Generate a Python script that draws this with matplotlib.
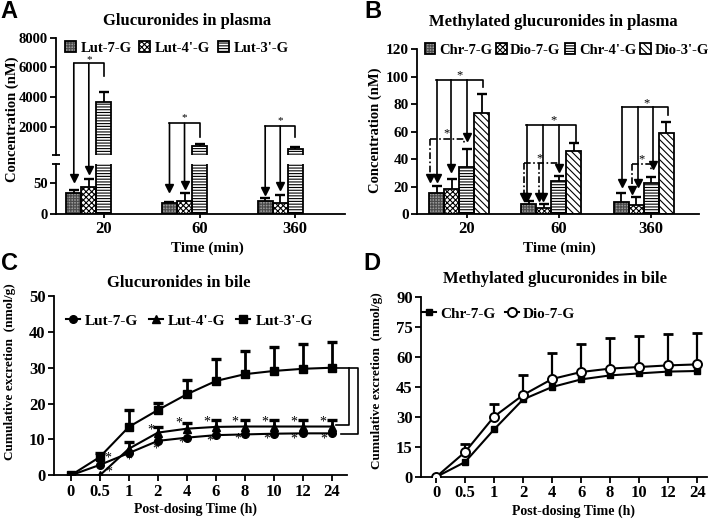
import numpy as np
import matplotlib
matplotlib.use('Agg')
import matplotlib.pyplot as plt
from matplotlib.patches import Patch, ConnectionPatch
from matplotlib.lines import Line2D

plt.rcParams['font.family'] = ['Liberation Serif', 'DejaVu Serif']
plt.rcParams['font.weight'] = 'bold'
plt.rcParams['axes.linewidth'] = 1.3
plt.rcParams['hatch.linewidth'] = 0.8

# ---------------- data ----------------
plasma_times = ['20', '60', '360']
lut_names = ["Lut-7-G", "Lut-4'-G", "Lut-3'-G"]
lut7_plasma = [34, 18.8, 21.5]
lut7_plasma_err = [4.6, 0.8, 4.1]
lut4_plasma = [43, 21.5, 17.6]
lut4_plasma_err = [13.8, 12.5, 13.6]
lut3_plasma = [3649, 706, 504]
lut3_plasma_err = [674, 135, 155]

met_names = ["Chr-7-G", "Dio-7-G", "Chr-4'-G", "Dio-3'-G"]
chr7_plasma = [15.8, 7.3, 9.0]
chr7_plasma_err = [4.8, 2.4, 6.3]
dio7_plasma = [18.7, 4.4, 6.8]
dio7_plasma_err = [6.8, 3.1, 5.6]
chr4_plasma = [34.2, 24.0, 23.0]
chr4_plasma_err = [13.3, 4.1, 3.9]
dio3_plasma = [73.5, 46.3, 59.4]
dio3_plasma_err = [13.8, 5.3, 7.8]

bile_times = ['0', '0.5', '1', '2', '4', '6', '8', '10', '12', '24']
lut7_bile = [0, 2.9, 6.2, 9.6, 10.5, 11.2, 11.4, 11.6, 11.7, 11.7]
lut4_bile = [0, 0, 7.4, 11.9, 13.0, 13.5, 13.6, 13.6, 13.6, 13.6]
lut4_bile_err = [0, 0, 1.9, 1.7, 1.5, 1.9, 1.8, 1.8, 1.8, 1.8]
lut3_bile = [0, 5.1, 13.5, 18.2, 22.6, 26.3, 28.2, 29.1, 29.7, 30.0]
lut3_bile_err = [0, 1.2, 4.7, 2.1, 4.0, 6.0, 6.5, 6.7, 7.0, 7.2]

chr7_bile = [0, 7.5, 23.8, 38.8, 45.0, 48.8, 50.8, 51.8, 52.7, 53.0]
dio7_bile = [0, 12.5, 30.2, 41.0, 49.0, 52.5, 54.2, 55.0, 55.8, 56.3]
dio7_bile_err = [0, 4.2, 6.5, 10.0, 13.2, 13.8, 15.1, 15.3, 15.5, 15.9]

# ---------------- helpers ----------------
W, H = 724, 522
fig = plt.figure(figsize=(W / 100, H / 100), dpi=100)


def box(l, t, r, b):
    return [l / W, 1 - b / H, (r - l) / W, (b - t) / H]


def fxy(px, py):
    return px / W, 1 - py / H


bar_styles = {
    'gray': dict(face='#9a9a9a', hatch='++++++', hc='#4a4a4a'),
    'check': dict(face='white', hatch='xxxxxx', hc='black'),
    'hline': dict(face='white', hatch='------', hc='black'),
    'diag': dict(face='white', hatch='\\\\\\\\\\', hc='black'),
}


def draw_bars(ax, xs, hs, w, st, base=0):
    s = bar_styles[st]
    hs = np.asarray(hs, float) - base
    ax.bar(xs, hs, w, bottom=base, color=s['face'], edgecolor=s['hc'], hatch=s['hatch'],
           linewidth=0, zorder=2)
    ax.bar(xs, hs, w, bottom=base, fill=False, edgecolor='black', linewidth=1.3, zorder=3)


def bar_handle(st):
    s = bar_styles[st]
    return (Patch(facecolor=s['face'], edgecolor=s['hc'], hatch=s['hatch'], linewidth=0),
            Patch(fill=False, edgecolor='black', linewidth=1.3))


def up_err(ax, x, y, e, cap=7, lw=1.3, z=4):
    x = np.asarray(x, float)
    y = np.asarray(y, float)
    e = np.asarray(e, float)
    m = e > 0
    ax.vlines(x[m], y[m], y[m] + e[m], color='k', lw=lw, zorder=z)
    ax.plot(x[m], y[m] + e[m], ls='none', marker='_', ms=cap, mew=lw + 0.4, color='k', zorder=z)


def prism(ax, ysize=11, xsize=12):
    for s in ['top', 'right']:
        ax.spines[s].set_visible(False)
    ax.tick_params(direction='out', length=4, width=1.3, pad=2)
    ax.tick_params(axis='y', labelsize=ysize)
    ax.tick_params(axis='x', labelsize=xsize)


def star(ax, x, y, size=9):
    ax.text(x, y, '*', ha='center', va='center', fontsize=size, fontweight='normal', clip_on=False)


def vline_arrow(ax, x, y0, tip, ls='-'):
    ax.plot([x, x], [y0, tip], color='k', lw=1.2, ls=ls, clip_on=False, zorder=5)
    ax.plot(x, tip, marker='v', ms=6, color='k', clip_on=False, zorder=5)


DASHDOT = (0, (4, 1.5, 1, 1.5))

# ---------------- panel A (broken axis) ----------------
axA_lo = fig.add_axes(box(56, 164.3, 345, 214.3))
axA_up = fig.add_axes(box(56, 37.7, 345, 155))
xA = np.arange(len(plasma_times))
wA = 0.157
lutA = [(lut7_plasma, lut7_plasma_err, 'gray'),
        (lut4_plasma, lut4_plasma_err, 'check'),
        (lut3_plasma, lut3_plasma_err, 'hline')]
for i, (vals, errs, st) in enumerate(lutA):
    draw_bars(axA_lo, xA + (i - 2) * wA, vals, wA, st)
    up_err(axA_lo, xA + (i - 2) * wA, vals, errs)
# only Lut-3'-G reaches the upper segment; its base sits well below the break
draw_bars(axA_up, xA, lut3_plasma, wA, 'hline', base=-3000)
up_err(axA_up, xA, lut3_plasma, lut3_plasma_err)
for ax in (axA_lo, axA_up):
    ax.set_xlim(-0.50, 2.52)
    prism(ax, ysize=10.5)

axA_lo.set_ylim(0, 80)
axA_lo.set_yticks([0, 50])
axA_lo.set_xticks(xA)
axA_lo.set_xticklabels(plasma_times)
axA_lo.tick_params(axis='x', length=3)
axA_up.set_ylim(100, 8000)
axA_up.set_yticks([2000, 4000, 6000, 8000])
axA_up.spines['bottom'].set_visible(False)
axA_up.tick_params(axis='x', bottom=False, labelbottom=False)
# break caps
axA_up.plot(0, 0, marker='_', ms=6, mew=1.3, color='k', transform=axA_up.transAxes, clip_on=False)
axA_lo.plot(0, 1, marker='_', ms=6, mew=1.3, color='k', transform=axA_lo.transAxes, clip_on=False)

axA_up.legend([bar_handle(s) for _, _, s in lutA], lut_names, ncol=3, frameon=False,
              loc='center left', bbox_to_anchor=fxy(65, 48), bbox_transform=fig.transFigure,
              borderpad=0, borderaxespad=0, handlelength=0.75, handleheight=0.75,
              handletextpad=0.3, columnspacing=0.55, fontsize=10.5)

# brackets spanning the break: (bracket y, drop y, tip Lut-7, tip Lut-4, star y)
a_brackets = [(6276, 5420, 58.5, 70.5, 6550),
              (2235, 1312, 41.5, 46.6, 2592),
              (2053, 1312, 38.0, 45.0, 2390)]
for g, (yb, yd, t0, t1, ys) in enumerate(a_brackets):
    x0, x1, x2 = g - 2 * wA, g - wA, g
    axA_up.plot([x0, x2, x2], [yb, yb, yd], color='k', lw=1.2, clip_on=False)
    for xx, tip in ((x0, t0), (x1, t1)):
        cp = ConnectionPatch((xx, yb), (xx, tip), 'data', 'data', axesA=axA_up, axesB=axA_lo,
                             color='k', lw=1.2, shrinkA=0, shrinkB=0)
        fig.add_artist(cp)
        axA_lo.plot(xx, tip, marker='v', ms=6, color='k', clip_on=False, zorder=5)
    star(axA_up, x1, ys, size=8)

# ---------------- panel B ----------------
axB = fig.add_axes(box(417, 49.3, 699, 214.3))
xB = np.arange(len(plasma_times))
wB = 0.163
metB = [(chr7_plasma, chr7_plasma_err, 'gray'),
        (dio7_plasma, dio7_plasma_err, 'check'),
        (chr4_plasma, chr4_plasma_err, 'hline'),
        (dio3_plasma, dio3_plasma_err, 'diag')]
for i, (vals, errs, st) in enumerate(metB):
    draw_bars(axB, xB + (i - 2) * wB, vals, wB, st)
    up_err(axB, xB + (i - 2) * wB, vals, errs)
axB.set_xlim(-0.54, 2.52)
axB.set_ylim(0, 120)
axB.set_yticks(np.arange(0, 121, 20))
axB.set_xticks(xB)
axB.set_xticklabels(plasma_times)
prism(axB)
axB.tick_params(axis='x', length=3)
axB.legend([bar_handle(s) for _, _, s in metB], met_names, ncol=4, frameon=False,
           loc='center left', bbox_to_anchor=fxy(425, 50), bbox_transform=fig.transFigure,
           borderpad=0, borderaxespad=0, handlelength=0.7, handleheight=0.7,
           handletextpad=0.25, columnspacing=0.3, fontsize=10.5)

# solid brackets: (group, x left, x right, y, drop, arrows[(x, tip)], star(x, y))
b_solid = [
    (0, -0.337, 0.174, 97.7, 92.6, [(-0.326, 26.4), (-0.174, 33.7), (0.0, 56.2)], (-0.076, 101)),
    (1, -0.359, 0.185, 64.9, 52.6, [(-0.348, 12.6), (-0.174, 12.6), (0.0, 33.7)], (-0.054, 68)),
    (2, -0.315, 0.185, 77.7, 72.2, [(-0.315, 22.8), (-0.141, 22.8), (0.02, 35.9)], (-0.054, 81)),
]
b_dash = [
    (0, -0.40, -0.03, 54.8, 52.0, [(-0.40, 26.4)], (-0.217, 59)),
    (1, -0.38, 0.0, 37.3, 37.3, [(-0.38, 12.6), (-0.217, 12.6)], (-0.207, 40.5)),
    (2, -0.207, 0.0, 36.6, 32.0, [(-0.207, 17.7)], (-0.109, 40)),
]
for spec, ls in ((b_solid, '-'), (b_dash, DASHDOT)):
    for g, xl, xr, yb, yd, arrows, (sx, sy) in spec:
        axB.plot([g + xl, g + xr, g + xr], [yb, yb, yd], color='k', lw=1.2, ls=ls, zorder=5)
        for ax_, tip in arrows:
            vline_arrow(axB, g + ax_, yb, tip, ls=ls)
        star(axB, g + sx, sy)

# ---------------- panel C ----------------
axC = fig.add_axes(box(54, 296, 347, 475.3))
xC = np.arange(len(bile_times))
up_err(axC, xC, lut3_bile, lut3_bile_err, cap=7, lw=2)
up_err(axC, xC, lut4_bile, lut4_bile_err, cap=7, lw=2)
axC.plot(xC, lut7_bile, '-o', color='k', lw=1.5, ms=5.5, zorder=6)
axC.plot(xC, lut4_bile, '-^', color='k', lw=1.5, ms=6, zorder=6)
axC.plot(xC, lut3_bile, '-s', color='k', lw=1.5, ms=5.5, zorder=6)
axC.set_xlim(-0.58, 9.52)
axC.set_ylim(0, 50)
axC.set_yticks(np.arange(0, 51, 10))
axC.set_xticks(xC)
axC.set_xticklabels(bile_times)
prism(axC, ysize=12, xsize=12)
c_handles = [Line2D([], [], color='k', lw=1.5, marker=m, ms=s) for m, s in (('o', 5.5), ('^', 6), ('s', 5.5))]
axC.legend(c_handles, lut_names, ncol=3, frameon=False, numpoints=1,
           loc='center left', bbox_to_anchor=fxy(66, 321), bbox_transform=fig.transFigure,
           borderpad=0, borderaxespad=0, handlelength=0.9, handletextpad=0.35,
           columnspacing=0.7, fontsize=11)

# significance stars
c_stars_up = [(2.75, 12.5), (3.72, 14.5), (4.70, 14.9), (5.67, 14.9), (6.68, 14.9), (7.67, 14.9), (8.68, 14.9)]
c_stars_lo = [(2.0, 4.2), (2.92, 7.2), (3.84, 9.1), (4.79, 9.6), (5.76, 10.0), (6.76, 10.0), (7.70, 10.2), (8.73, 10.2)]
c_stars_extra = [(1.28, 4.9), (1.32, 1.0)]
for sx, sy in c_stars_up + c_stars_lo + c_stars_extra:
    star(axC, sx, sy, size=10)
# right-hand brackets
axC.plot([9.11, 9.90, 9.90, 9.31], [30, 30, 11.5, 11.5], color='k', lw=1.2, clip_on=False)
axC.plot([9.59, 9.59, 9.14], [30, 14.0, 14.0], color='k', lw=1.2, clip_on=False)

# ---------------- panel D ----------------
axD = fig.add_axes(box(421, 297, 707, 477))
xD = np.arange(len(bile_times))
up_err(axD, xD, dio7_bile, dio7_bile_err, cap=7, lw=1.6)
axD.plot(xD, chr7_bile, '-s', color='k', lw=1.5, ms=5, zorder=6)
axD.plot(xD, dio7_bile, '-o', color='k', mfc='white', mew=1.4, lw=1.5, ms=6.5, zorder=6)
axD.set_xlim(-0.52, 9.34)
axD.set_ylim(0, 90)
axD.set_yticks(np.arange(0, 91, 15))
axD.set_xticks(xD)
axD.set_xticklabels(bile_times)
prism(axD, ysize=12, xsize=12)
d_handles = [Line2D([], [], color='k', lw=1.5, marker='s', ms=5),
             Line2D([], [], color='k', lw=1.5, marker='o', ms=6.5, mfc='white', mew=1.4)]
axD.legend(d_handles, ["Chr-7-G", "Dio-7-G"], ncol=2, frameon=False, numpoints=1,
           loc='center left', bbox_to_anchor=fxy(422, 314), bbox_transform=fig.transFigure,
           borderpad=0, borderaxespad=0, handlelength=0.9, handletextpad=0.3,
           columnspacing=0.6, fontsize=11)

# ---------------- texts ----------------
fig.text(*fxy(187, 21), 'Glucuronides in plasma', ha='center', va='center', fontsize=12)
fig.text(*fxy(553, 22), 'Methylated glucuronides in plasma', ha='center', va='center', fontsize=12)
fig.text(*fxy(179, 283), 'Glucuronides in bile', ha='center', va='center', fontsize=12)
fig.text(*fxy(555, 279), 'Methylated glucuronides in bile', ha='center', va='center', fontsize=12)

fig.text(*fxy(207, 248), 'Time (min)', ha='center', va='center', fontsize=11)
fig.text(*fxy(559, 248), 'Time (min)', ha='center', va='center', fontsize=11)
fig.text(*fxy(196, 509), 'Post-dosing Time (h)', ha='center', va='center', fontsize=10)
fig.text(*fxy(573, 511), 'Post-dosing Time (h)', ha='center', va='center', fontsize=10)

fig.text(*fxy(12, 119), 'Concentration (nM)', rotation=90, ha='center', va='center', fontsize=10.5)
fig.text(*fxy(375, 130), 'Concentration (nM)', rotation=90, ha='center', va='center', fontsize=10.5)
fig.text(*fxy(10, 372), 'Cumulative excretion  (nmol/g)', rotation=90, ha='center', va='center', fontsize=9.5)
fig.text(*fxy(377, 381), 'Cumulative excretion  (nmol/g)', rotation=90, ha='center', va='center', fontsize=9.5)

for lab, (px, py) in zip('ABCD', [(9, 12), (373, 12), (9, 263), (372, 263)]):
    fig.text(*fxy(px, py), lab, ha='center', va='center', fontsize=17,
             family=['Liberation Sans', 'DejaVu Sans'], fontweight='bold')

fig.savefig('out.png', dpi=100)
